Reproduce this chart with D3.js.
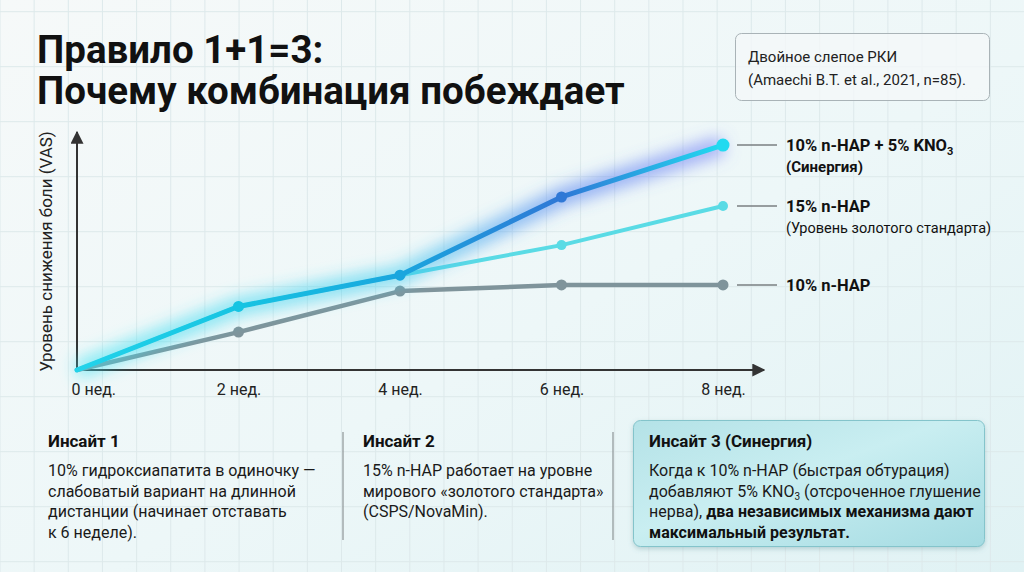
<!DOCTYPE html>
<html>
<head>
<meta charset="utf-8">
<script src="https://cdn.jsdelivr.net/npm/d3@7"></script>
<style>
  html, body { margin: 0; padding: 0; }
  body { width: 1024px; height: 572px; overflow: hidden; font-family: Roboto, "Noto Sans", sans-serif; }
  text { font-family: Roboto, "Noto Sans", sans-serif; }
</style>
</head>
<body>
<script>
// данные: недели и уровень снижения боли (VAS, условные единицы)
var weeks = [0, 2, 4, 6, 8];
var weekLabels = ["0 нед.", "2 нед.", "4 нед.", "6 нед.", "8 нед."];
var nhap10 = [0, 1.6, 3.33, 3.59, 3.59];
var nhap15 = [0, 2.68, 4.0, 5.27, 6.92];
var combo = [0, 2.68, 4.0, 7.3, 9.49];

var seriesNames = ["10% n-HAP", "15% n-HAP", "10% n-HAP + 5% KNO"];
var seriesNotes = ["", "(Уровень золотого стандарта)", "(Синергия)"];

var titleLines = ["Правило 1+1=3:", "Почему комбинация побеждает"];
var sourceLines = ["Двойное слепое РКИ", "(Amaechi B.T. et al., 2021, n=85)."];

var insightTitles = ["Инсайт 1", "Инсайт 2", "Инсайт 3 (Синергия)"];
var insight1 = ["10% гидроксиапатита в одиночку —", "слабоватый вариант на длинной", "дистанции (начинает отставать", "к 6 неделе)."];
var insight2 = ["15% n-HAP работает на уровне", "мирового «золотого стандарта»", "(CSPS/NovaMin)."];

var w = 1024;
var h = 572;

var svg = d3.select("body").append("svg").attr("width", w).attr("height", h);
var defs = svg.append("defs");

// фон
var bg = defs.append("linearGradient").attr("id", "bg")
  .attr("x1", 0).attr("y1", 0).attr("x2", 1).attr("y2", 1);
bg.append("stop").attr("offset", "0%").attr("stop-color", "#f6f9f9");
bg.append("stop").attr("offset", "55%").attr("stop-color", "#edf7f8");
bg.append("stop").attr("offset", "100%").attr("stop-color", "#e0f2f4");
svg.append("rect").attr("width", w).attr("height", h).attr("fill", "url(#bg)");

// сетка
var grid = svg.append("g").attr("stroke", "#dde9eb").attr("stroke-width", 1);
grid.selectAll(".gv").data(d3.range(0, w, 34.15)).enter().append("line")
  .attr("x1", function (d) { return d; }).attr("x2", function (d) { return d; })
  .attr("y1", 0).attr("y2", h);
grid.selectAll(".gh").data(d3.range(11.7, h, 55)).enter().append("line")
  .attr("y1", function (d) { return d; }).attr("y2", function (d) { return d; })
  .attr("x1", 0).attr("x2", w);

// заголовок (две отдельные строки)
svg.selectAll(".title").data(titleLines).enter().append("text")
  .attr("class", "title")
  .attr("x", 37)
  .attr("y", function (d, i) { return 63 + i * 41; })
  .attr("font-size", 38.5).attr("font-weight", 700).attr("fill", "#111")
  .text(function (d) { return d; });

// источник
svg.append("rect").attr("x", 735.5).attr("y", 33.5).attr("width", 254).attr("height", 67).attr("rx", 6)
  .attr("fill", "#f4f8f9").attr("fill-opacity", 0.8).attr("stroke", "#a9b3b7").attr("stroke-width", 1);
svg.selectAll(".src").data(sourceLines).enter().append("text")
  .attr("class", "src")
  .attr("x", 748)
  .attr("y", function (d, i) { return 62 + i * 23; })
  .attr("font-size", 15).attr("fill", "#222")
  .text(function (d) { return d; });

// шкалы
var xScale = d3.scaleLinear().domain([0, 8]).range([77, 723]);
var yScale = d3.scaleLinear().domain([0, 10]).range([370, 133]);

// цвет линии синергии вдоль оси X
var comboColor = d3.scaleLinear()
  .domain([0, 2, 4, 6, 8])
  .range(["#22d3ea", "#16c4e2", "#1aa6de", "#2f78d6", "#22daf0"]);

var grad = defs.append("linearGradient").attr("id", "comboGrad")
  .attr("gradientUnits", "userSpaceOnUse")
  .attr("x1", xScale(0)).attr("x2", xScale(8)).attr("y1", 0).attr("y2", 0);
comboColor.domain().forEach(function (d) {
  grad.append("stop").attr("offset", d / 8).attr("stop-color", comboColor(d));
});
var glowGrad = defs.append("linearGradient").attr("id", "glowGrad")
  .attr("gradientUnits", "userSpaceOnUse")
  .attr("x1", xScale(0)).attr("x2", xScale(8)).attr("y1", 0).attr("y2", 0);
[["0", "#3fe3f2"], ["0.5", "#38cbef"], ["0.75", "#4a7df0"], ["1", "#6f7bf5"]].forEach(function (s) {
  glowGrad.append("stop").attr("offset", s[0]).attr("stop-color", s[1]);
});

var blur = defs.append("filter").attr("id", "glow")
  .attr("x", "-20%").attr("y", "-40%").attr("width", "140%").attr("height", "180%");
blur.append("feGaussianBlur").attr("stdDeviation", 8);

var lineGen = d3.line()
  .x(function (d, i) { return xScale(weeks[i]); })
  .y(function (d) { return yScale(d); });

// оси
var arrow = defs.append("marker").attr("id", "arrow")
  .attr("viewBox", "0 0 10 10").attr("refX", 9).attr("refY", 5)
  .attr("markerWidth", 13).attr("markerHeight", 13).attr("markerUnits", "userSpaceOnUse")
  .attr("orient", "auto");
arrow.append("path").attr("d", "M0,0 L10,5 L0,10 z").attr("fill", "#333");

svg.append("line")
  .attr("x1", xScale(0)).attr("y1", yScale(0)).attr("x2", 764).attr("y2", yScale(0))
  .attr("stroke", "#333").attr("stroke-width", 2).attr("marker-end", "url(#arrow)");
svg.append("line")
  .attr("x1", xScale(0)).attr("y1", yScale(0)).attr("x2", xScale(0)).attr("y2", 132)
  .attr("stroke", "#333").attr("stroke-width", 2).attr("marker-end", "url(#arrow)");

var xAxis = d3.axisBottom(xScale).tickValues(weeks).tickSize(0).tickPadding(14)
  .tickFormat(function (d, i) { return weekLabels[i]; });
var gx = svg.append("g").attr("transform", "translate(0," + yScale(0) + ")").call(xAxis);
gx.select(".domain").remove();
gx.selectAll("text").attr("font-size", 16).attr("fill", "#222").attr("font-family", "Roboto");
gx.selectAll(".tick").filter(function (d) { return d === 0; }).select("text")
  .attr("text-anchor", "start").attr("x", -6);

svg.append("text")
  .attr("transform", "translate(52," + (yScale(0) + yScale(10)) / 2 + ") rotate(-90)")
  .attr("text-anchor", "middle").attr("font-size", 17).attr("fill", "#222")
  .text("Уровень снижения боли (VAS)");

// линии
function drawSeries(values, color, width, r) {
  svg.append("path").datum(values).attr("d", lineGen)
    .attr("fill", "none").attr("stroke", color).attr("stroke-width", width)
    .attr("stroke-linejoin", "round").attr("stroke-linecap", "round");
  svg.selectAll(null).data(values.slice(1)).enter().append("circle")
    .attr("cx", function (d, i) { return xScale(weeks[i + 1]); })
    .attr("cy", function (d) { return yScale(d); })
    .attr("r", r).attr("fill", color);
}

drawSeries(nhap10, "#7f949b", 4.5, 5.5);
drawSeries(nhap15, "#5adbe5", 4, 5);

svg.append("path").datum(combo).attr("d", lineGen)
  .attr("fill", "none").attr("stroke", "url(#glowGrad)").attr("stroke-width", 18)
  .attr("stroke-opacity", 0.6).attr("filter", "url(#glow)");
svg.append("path").datum(combo).attr("d", lineGen)
  .attr("fill", "none").attr("stroke", "url(#comboGrad)").attr("stroke-width", 5)
  .attr("stroke-linejoin", "round").attr("stroke-linecap", "round");
svg.selectAll(null).data(combo.slice(1)).enter().append("circle")
  .attr("cx", function (d, i) { return xScale(weeks[i + 1]); })
  .attr("cy", function (d) { return yScale(d); })
  .attr("r", function (d, i) { return i === 3 ? 6.5 : 5.5; })
  .attr("fill", function (d, i) { return comboColor(weeks[i + 1]); });

// подписи серий справа
var lastVals = [nhap10[4], nhap15[4], combo[4]];
lastVals.forEach(function (v, i) {
  var y = yScale(v);
  svg.append("line").attr("x1", 737).attr("x2", 777).attr("y1", y).attr("y2", y)
    .attr("stroke", "#7a7f82").attr("stroke-width", 1.5);
  var t = svg.append("text").attr("x", 786).attr("y", y + 6).attr("font-size", 16.5)
    .attr("font-weight", 700).attr("fill", "#111").text(seriesNames[i]);
  if (i === 2) {
    t.append("tspan").attr("font-size", 11).attr("dy", 4).text("3");
  }
  if (seriesNotes[i]) {
    svg.append("text").attr("x", 786).attr("y", y + 27).attr("font-size", i === 2 ? 15 : 14.5)
      .attr("font-weight", i === 2 ? 700 : 400).attr("fill", "#111").text(seriesNotes[i]);
  }
});

// инсайты
function insightBlock(x, head, lines) {
  svg.append("text").attr("x", x).attr("y", 447).attr("font-size", 17)
    .attr("font-weight", 700).attr("fill", "#111").text(head);
  lines.forEach(function (l, i) {
    svg.append("text").attr("x", x).attr("y", 476 + i * 20.5).attr("font-size", 16)
      .attr("fill", "#1a1a1a").text(l);
  });
}
insightBlock(48, insightTitles[0], insight1);
insightBlock(363, insightTitles[1], insight2);

[343, 613].forEach(function (x) {
  svg.append("line").attr("x1", x).attr("x2", x).attr("y1", 432).attr("y2", 540)
    .attr("stroke", "#8d9496").attr("stroke-width", 1.2);
});

// блок синергии
var boxGrad = defs.append("linearGradient").attr("id", "boxGrad")
  .attr("x1", 0).attr("y1", 0).attr("x2", 1).attr("y2", 1);
boxGrad.append("stop").attr("offset", "0%").attr("stop-color", "#b4e2e7");
boxGrad.append("stop").attr("offset", "45%").attr("stop-color", "#c9eef1");
boxGrad.append("stop").attr("offset", "100%").attr("stop-color", "#a4dbe2");
var shadow = defs.append("filter").attr("id", "shadow").attr("x", "-10%").attr("y", "-10%").attr("width", "120%").attr("height", "130%");
shadow.append("feDropShadow").attr("dx", 0).attr("dy", 2).attr("stdDeviation", 2.5)
  .attr("flood-color", "#5a8f96").attr("flood-opacity", 0.35);
svg.append("rect").attr("x", 633.5).attr("y", 420.5).attr("width", 351).attr("height", 126).attr("rx", 7)
  .attr("fill", "url(#boxGrad)").attr("stroke", "#84c4cb").attr("stroke-width", 1).attr("filter", "url(#shadow)");

svg.append("text").attr("x", 649).attr("y", 447).attr("font-size", 17)
  .attr("font-weight", 700).attr("fill", "#111").text(insightTitles[2]);
svg.append("text").attr("x", 649).attr("y", 476).attr("font-size", 16).attr("fill", "#1a1a1a")
  .text("Когда к 10% n-HAP (быстрая обтурация)");
var b2 = svg.append("text").attr("x", 649).attr("y", 496.5).attr("font-size", 16).attr("fill", "#1a1a1a");
b2.append("tspan").text("добавляют 5% KNO");
b2.append("tspan").attr("font-size", 10).attr("dy", 3).text("3");
b2.append("tspan").attr("dy", -3).text(" (отсроченное глушение");
var b3 = svg.append("text").attr("x", 649).attr("y", 517).attr("font-size", 16).attr("fill", "#1a1a1a");
b3.append("tspan").text("нерва), ");
b3.append("tspan").attr("font-weight", 700).attr("fill", "#111").text("два независимых механизма дают");
svg.append("text").attr("x", 649).attr("y", 537.5).attr("font-size", 16).attr("font-weight", 700)
  .attr("fill", "#111").text("максимальный результат.");
</script>
</body>
</html>
